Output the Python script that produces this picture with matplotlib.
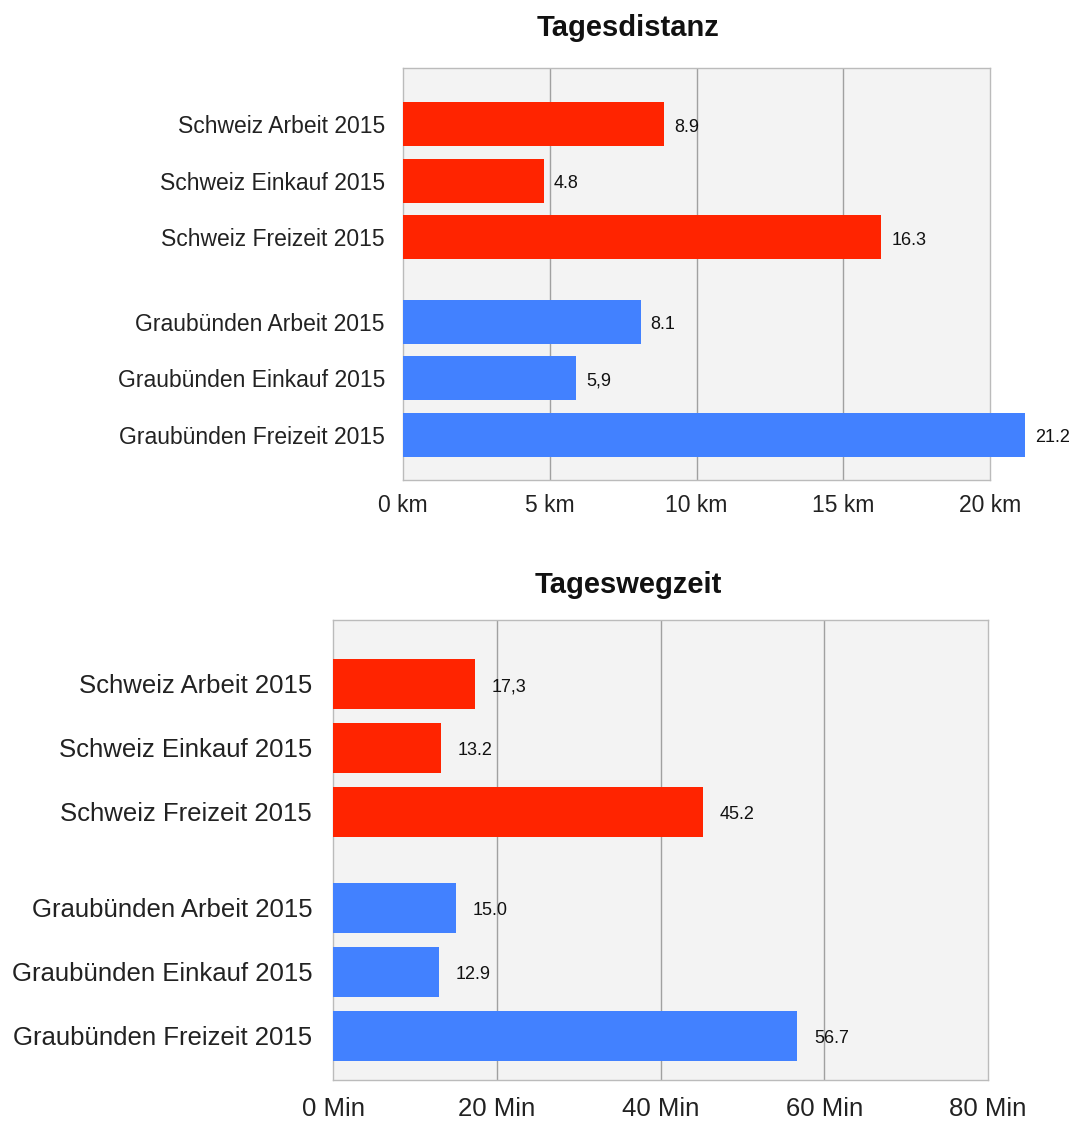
"""Tagesdistanz und Tageswegzeit nach Verkehrszweck, Schweiz vs. Graubünden 2015."""

import matplotlib.pyplot as plt

plt.rcParams["font.family"] = ["Liberation Sans", "DejaVu Sans"]

W, H = 1069, 1122

categories = [
    "Schweiz Arbeit 2015",
    "Schweiz Einkauf 2015",
    "Schweiz Freizeit 2015",
    "Graubünden Arbeit 2015",
    "Graubünden Einkauf 2015",
    "Graubünden Freizeit 2015",
]
regions = ["Schweiz", "Schweiz", "Schweiz", "Graubünden", "Graubünden", "Graubünden"]

distance_km = [8.9, 4.8, 16.3, 8.1, 5.9, 21.2]
distance_labels = ["8.9", "4.8", "16.3", "8.1", "5,9", "21.2"]
distance_ticks = [0, 5, 10, 15, 20]
distance_ticklabels = ["0 km", "5 km", "10 km", "15 km", "20 km"]

time_min = [17.3, 13.2, 45.2, 15.0, 12.9, 56.7]
time_labels = ["17,3", "13.2", "45.2", "15.0", "12.9", "56.7"]
time_ticks = [0, 20, 40, 60, 80]
time_ticklabels = ["0 Min", "20 Min", "40 Min", "60 Min", "80 Min"]

COLORS = {"Schweiz": "#FF2400", "Graubünden": "#4281FF"}
BG = "#F3F3F3"
GRID = "#A0A0A0"
FRAME = "#BBBBBB"

# two groups of three bars, with a wider gap between the groups
POS = [0, 1, 2, 3.5, 4.5, 5.5]


def px_axes(fig, left, top, right, bottom):
    return fig.add_axes([left / W, 1 - bottom / H, (right - left) / W, (bottom - top) / H])


def draw_panel(ax, values, labels, ticks, ticklabels, ylim, fs_cat, fs_tick, pad_cat, pad_tick, offset):
    colors = [COLORS[r] for r in regions]
    bars = ax.barh(POS, values, height=0.78, color=colors, zorder=3, clip_on=False)
    for b, v, lab in zip(bars, values, labels):
        ax.annotate(lab, xy=(v, b.get_y() + b.get_height() / 2), xytext=(offset, -2),
                    textcoords="offset points", va="center", ha="left",
                    fontsize=13, color="#111111", annotation_clip=False)

    ax.set_xlim(ticks[0], ticks[-1])
    ax.set_ylim(*ylim)
    ax.set_facecolor(BG)
    ax.set_yticks(POS)
    ax.set_yticklabels(categories, fontsize=fs_cat, color="#222222")
    ax.set_xticks(ticks)
    ax.set_xticklabels(ticklabels, fontsize=fs_tick, color="#222222")
    ax.tick_params(axis="y", length=0, pad=pad_cat)
    ax.tick_params(axis="x", length=0, pad=pad_tick)
    for t in ticks[1:-1]:
        ax.axvline(t, color=GRID, linewidth=1.0, zorder=1)
    for s in ax.spines.values():
        s.set_color(FRAME)
        s.set_linewidth(1.0)


fig = plt.figure(figsize=(W / 100, H / 100), dpi=100)

ax1 = px_axes(fig, 403, 68, 990, 480)
draw_panel(ax1, distance_km, distance_labels, distance_ticks, distance_ticklabels,
           (6.3, -1.0), 16.5, 16.5, 13, 10, 7)
fig.text(628 / W, 1 - 28 / H, "Tagesdistanz", ha="center", va="center",
         fontsize=21, fontweight="bold", color="#111111")

ax2 = px_axes(fig, 333, 620, 988, 1080)
draw_panel(ax2, time_min, time_labels, time_ticks, time_ticklabels,
           (6.19, -1.0), 18.5, 18.5, 15, 12, 12)
fig.text(628 / W, 1 - 585 / H, "Tageswegzeit", ha="center", va="center",
         fontsize=21, fontweight="bold", color="#111111")

fig.savefig("out.png", dpi=100, facecolor="white")
